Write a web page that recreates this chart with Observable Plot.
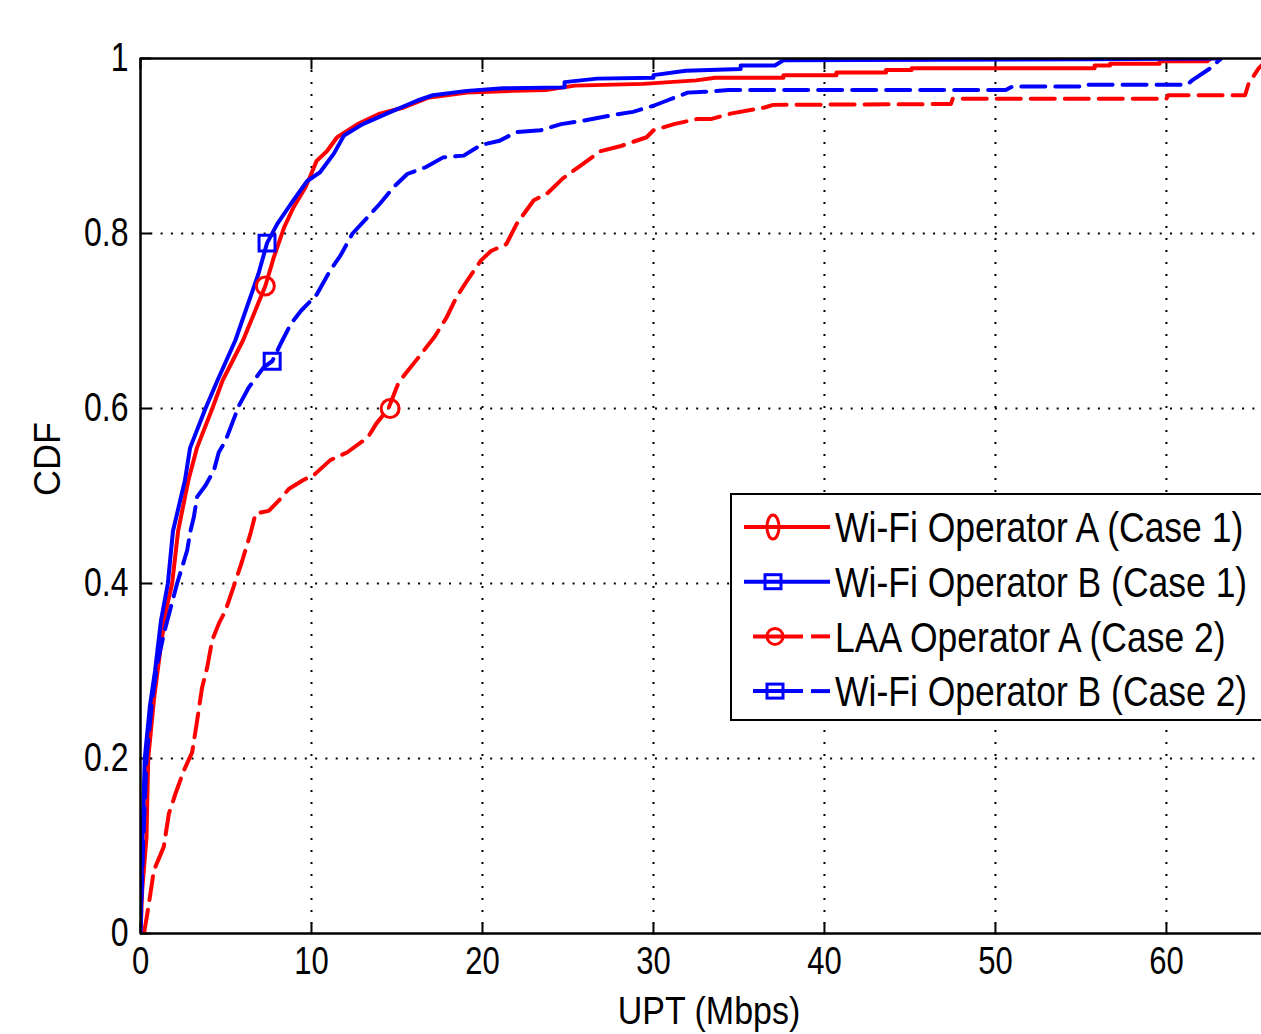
<!DOCTYPE html>
<html><head><meta charset="utf-8">
<script src="https://cdn.jsdelivr.net/npm/d3@7"></script>
<script src="https://cdn.jsdelivr.net/npm/@observablehq/plot@0.6"></script>
<style>
html,body{margin:0;padding:0;background:#fff;overflow:hidden}
#chart svg{display:block}
</style></head><body><div id="chart"></div>
<script>
// ---- data (UPT in Mbps, CDF) ----
const seriesNames = ["Wi-Fi Operator A (Case 1)", "Wi-Fi Operator B (Case 1)", "LAA Operator A (Case 2)", "Wi-Fi Operator B (Case 2)"];
const seriesColors = ["#ff0000", "#0000ff", "#ff0000", "#0000ff"];
const seriesDashed = [false, false, true, true];
const seriesSymbols = ["circle", "square", "circle", "square"];

const wifiA1X = [0,0.1,0.35,0.45,0.8,1.2,1.5,1.85,2.2,2.8,3.3,4.2,4.8,6.0,7.3,7.8,8.4,8.95,9.65,9.94,10.3,10.9,11.5,12.7,14.0,15.4,16.8,19.1,21.8,23.7,25.4,29.4,32.5,33.6,37.6,37.6,40.7,40.7,43.6,43.6,45.1,45.1,55.8,55.8,56.7,56.7,59.6,59.6,62.4,62.6];
const wifiA1Y = [0,0.05,0.11,0.2,0.27,0.33,0.37,0.4,0.46,0.518,0.555,0.6,0.632,0.678,0.74,0.773,0.807,0.83,0.853,0.866,0.883,0.894,0.91,0.925,0.937,0.944,0.955,0.961,0.963,0.964,0.969,0.971,0.975,0.978,0.978,0.981,0.981,0.984,0.984,0.987,0.987,0.989,0.989,0.992,0.992,0.994,0.994,0.997,0.997,1.0];

const wifiB1X = [0,0.1,0.25,0.55,0.85,1.2,1.6,1.9,2.6,2.9,3.8,4.5,5.55,6.9,7.4,8.0,8.8,9.75,10.5,11.3,11.9,13.0,14.4,16.2,17.1,19.1,21.2,24.8,24.8,26.7,30,30,31.9,35.1,35.1,37.1,37.6,55.5,63.1];
const wifiB1Y = [0,0.1,0.2,0.26,0.3,0.358,0.4,0.46,0.518,0.555,0.6,0.632,0.678,0.754,0.789,0.811,0.834,0.86,0.87,0.891,0.912,0.925,0.937,0.952,0.958,0.963,0.966,0.967,0.973,0.977,0.978,0.981,0.986,0.988,0.992,0.992,0.998,0.999,1.0];

const laaA2X = [0.2,0.3,0.49,0.78,1.36,1.66,2.05,2.53,3.02,3.31,3.6,3.9,4.19,4.6,4.97,5.56,5.95,6.43,6.73,7.5,8.1,8.67,9.5,10.2,11.1,12.1,13.3,13.8,14.5,15.1,16.2,17.2,17.9,18.5,19.1,19.9,20.5,21.4,22.0,23.0,23.8,24.7,25.7,26.9,28.1,29.6,30.0,31.2,32.6,33.4,34.5,36.5,37,47.4,47.5,60,60.1,64.6,64.8,65.1,65.4,66];
const laaA2Y = [0,0.011,0.034,0.072,0.099,0.137,0.16,0.186,0.207,0.243,0.281,0.304,0.335,0.355,0.369,0.403,0.426,0.457,0.48,0.483,0.495,0.508,0.518,0.525,0.541,0.55,0.567,0.583,0.6,0.63,0.657,0.682,0.704,0.728,0.746,0.769,0.78,0.788,0.811,0.838,0.846,0.863,0.877,0.894,0.90,0.91,0.918,0.925,0.931,0.931,0.937,0.944,0.947,0.948,0.954,0.954,0.958,0.958,0.971,0.98,0.989,1.0];

const wifiB2X = [0,0.15,0.35,0.7,1.0,1.4,1.8,2.14,2.44,2.73,2.92,3.12,3.31,3.8,4.29,4.58,4.97,5.36,5.75,6.33,7.2,7.7,8.2,8.8,9.4,10.3,11.1,11.7,12.4,13.3,14.0,14.8,15.6,16.7,17.7,18.9,19.9,21.0,22.0,23.4,24.6,25.9,27.5,28.8,30.0,30.8,32.0,33,34.4,50.6,51,55.3,55.4,61.2,61.5,62.5,63.2];
const wifiB2Y = [0,0.1,0.2,0.27,0.31,0.345,0.375,0.40,0.419,0.438,0.46,0.476,0.499,0.512,0.529,0.55,0.563,0.583,0.603,0.624,0.647,0.654,0.674,0.697,0.712,0.73,0.758,0.775,0.80,0.819,0.834,0.853,0.868,0.876,0.887,0.889,0.901,0.906,0.916,0.918,0.925,0.929,0.935,0.939,0.946,0.952,0.961,0.962,0.964,0.964,0.968,0.968,0.970,0.970,0.975,0.988,1.0];

// one marker per curve
const markerX = [7.3, 7.4, 14.6, 7.7];
const markerY = [0.74, 0.789, 0.6, 0.654];

const xTicks = [0, 10, 20, 30, 40, 50, 60];
const yTicks = [0, 0.2, 0.4, 0.6, 0.8, 1];
const xGrid = [10, 20, 30, 40, 50, 60];
const yGrid = [0.2, 0.4, 0.6, 0.8];
const xLabel = "UPT (Mbps)";
const yLabel = "CDF";

// ---- build tables ----
const allX = [wifiA1X, wifiB1X, laaA2X, wifiB2X];
const allY = [wifiA1Y, wifiB1Y, laaA2Y, wifiB2Y];
const curves = allX.map((xs, s) => xs.map((x, i) => ({x, y: allY[s][i], s})));
const markers = markerX.map((x, i) => ({x, y: markerY[i], s: i}));

const FONT = "'Liberation Sans', Arial, Helvetica, sans-serif";
const STRETCH = 1.25; // reference text is vertically stretched
const tickShape = {draw(c, l) { c.moveTo(0, 0); c.lineTo(0, -l); }};

function legend(index, scales, values, dims) {
  const g = d3.create("svg:g").attr("font-family", FONT);
  const left = 731, top = 494, h = 226;
  g.append("rect").attr("x", left).attr("y", top).attr("width", dims.width - left + 10).attr("height", h)
    .attr("fill", "#fff").attr("stroke", "#000").attr("stroke-width", 2);
  seriesNames.forEach((name, i) => {
    const cy = top + 33 + i * 54.7;
    const col = seriesColors[i];
    if (seriesDashed[i]) {
      g.append("line").attr("x1", 753).attr("x2", 803).attr("y1", cy).attr("y2", cy).attr("stroke", col).attr("stroke-width", 4);
      g.append("line").attr("x1", 811).attr("x2", 830).attr("y1", cy).attr("y2", cy).attr("stroke", col).attr("stroke-width", 4);
    } else {
      g.append("line").attr("x1", 744).attr("x2", 830).attr("y1", cy).attr("y2", cy).attr("stroke", col).attr("stroke-width", 4);
    }
    const mx = seriesDashed[i] ? 775 : 773;
    if (seriesSymbols[i] === "circle") {
      g.append("ellipse").attr("cx", mx).attr("cy", cy).attr("rx", i === 0 ? 6 : 8).attr("ry", i === 0 ? 12 : 8)
        .attr("fill", "none").attr("stroke", col).attr("stroke-width", 3);
    } else {
      g.append("rect").attr("x", mx - 8).attr("y", cy - 7).attr("width", 16).attr("height", 14)
        .attr("fill", "none").attr("stroke", col).attr("stroke-width", 3);
    }
    g.append("text").attr("transform", `translate(835,${cy}) scale(1,1.2)`)
      .attr("dy", "0.36em").attr("text-anchor", "start").attr("font-size", 35.5).attr("fill", "#000").text(name);
  });
  return g.node();
}

const chart = Plot.plot({
  width: 1261,
  height: 1034,
  marginLeft: 140,
  marginRight: 0,
  marginTop: 58,
  marginBottom: 101,
  style: {fontFamily: FONT, background: "#fff", overflow: "hidden"},
  x: {domain: [0, 65.56], ticks: xTicks},
  y: {domain: [0, 1], ticks: yTicks},
  marks: [
    Plot.ruleX(xGrid, {stroke: "#000", strokeWidth: 2, strokeDasharray: "2,10"}),
    Plot.ruleY(yGrid, {stroke: "#000", strokeWidth: 2, strokeDasharray: "2,8.3"}),
    Plot.vector(xTicks, {x: d => d, frameAnchor: "bottom", anchor: "start", length: 10, shape: tickShape, stroke: "#000", strokeWidth: 2}),
    Plot.vector(xTicks, {x: d => d, frameAnchor: "top", anchor: "start", length: 10, rotate: 180, shape: tickShape, stroke: "#000", strokeWidth: 2}),
    Plot.vector(yTicks, {y: d => d, frameAnchor: "left", anchor: "start", length: 10, rotate: 90, shape: tickShape, stroke: "#000", strokeWidth: 2}),
    ...curves.map((data, s) => Plot.line(data, {
      x: "x", y: "y", stroke: seriesColors[s], strokeWidth: 4,
      strokeDasharray: seriesDashed[s] ? "24,10" : null, clip: true
    })),
    Plot.dot(markers, {x: "x", y: "y", symbol: d => seriesSymbols[d.s], r: 9,
      stroke: d => seriesColors[d.s], fill: "none", strokeWidth: 3}),
    Plot.ruleX([0], {stroke: "#000", strokeWidth: 2.5}),
    Plot.ruleY([0, 1], {stroke: "#000", strokeWidth: 2.5}),
    Plot.axisX(xTicks, {tickSize: 0, tickPadding: 13, fontSize: 31, label: null, tickFormat: d => String(d)}),
    Plot.axisY(yTicks, {tickSize: 0, tickPadding: 12, fontSize: 32, label: null, tickFormat: d => String(d)}),
    Plot.text([xLabel], {frameAnchor: "bottom", dx: 8, dy: 63, lineAnchor: "top", fontSize: 34, fill: "#000", className: "xlabel"}),
    Plot.text([yLabel], {frameAnchor: "left", dx: -92, rotate: -90, fontSize: 36, fill: "#000"}),
    legend
  ]
});

// stretch text vertically, like the reference
function stretch(sel, s) {
  chart.querySelectorAll(sel).forEach(t => {
    const tr = t.getAttribute("transform");
    if (tr) {
      t.setAttribute("transform", tr + ` scale(1,${s})`);
    } else {
      const x = +t.getAttribute("x") || 0, y = +t.getAttribute("y") || 0;
      t.removeAttribute("x"); t.removeAttribute("y");
      t.setAttribute("transform", `translate(${x},${y}) scale(1,${s})`);
    }
  });
}
stretch('g[aria-label="x-axis tick label"] text, g[aria-label="y-axis tick label"] text', STRETCH);
stretch('g.xlabel text', 1.12);
document.getElementById("chart").appendChild(chart);
</script>
</body></html>
